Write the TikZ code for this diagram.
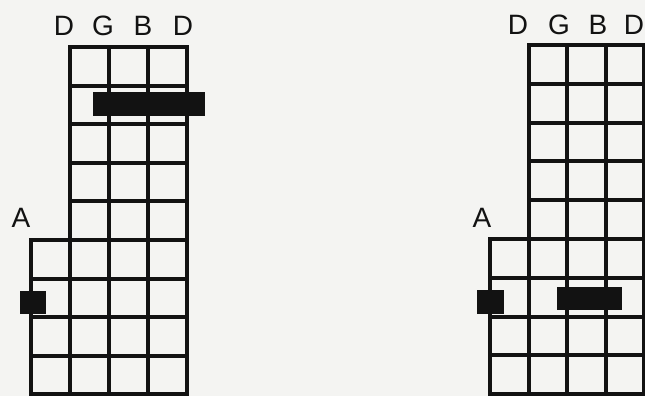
\documentclass[tikz,border=0pt]{standalone}
\usepackage{fontspec}
\setmainfont{Liberation Sans}
\definecolor{paper}{RGB}{244,244,242}
\definecolor{ink}{RGB}{18,18,18}
\begin{document}
\begin{tikzpicture}[x=1pt,y=-1pt,
  gridline/.style={draw=ink, line width=4pt, line cap=rect},
  lbl/.style={inner sep=0pt, font=\fontsize{28}{28}\selectfont, text=ink},
  fing/.style={fill=ink, draw=none, inner sep=0pt, rectangle}]
\fill[paper] (0,0) rectangle (645,396);
\useasboundingbox (0,0) rectangle (645,396);
% ---- left diagram ----
\foreach \k in {0,...,4} \draw[gridline] (69.5,{47+\k*38.6}) -- (186.5,{47+\k*38.6});
\foreach \k in {5,...,9} \draw[gridline] (30.5,{47+\k*38.6}) -- (186.5,{47+\k*38.6});
\foreach \s in {0,...,3} \draw[gridline] ({69.5+\s*39},47) -- ({69.5+\s*39},394.4);
\draw[gridline] (30.5,240) -- (30.5,394.4);
\node[lbl] (l1) at (64,26) {D};
\node[lbl] (l2) at (103,26) {G};
\node[lbl] (l3) at (143,26) {B};
\node[lbl] (l4) at (183,26) {D};
\node[lbl] (lA) at (21,218) {A};
\node[fing, minimum width=112pt, minimum height=24pt] (lbar) at (149,104) {};
\node[fing, minimum width=26pt, minimum height=23pt] (lsq) at (33,302.5) {};
% ---- right diagram ----
\foreach \k in {0,...,4} \draw[gridline] (528.5,{45+\k*38.8}) -- (644,{45+\k*38.8});
\foreach \k in {5,...,9} \draw[gridline] (490,{45+\k*38.8}) -- (644,{45+\k*38.8});
\foreach \s in {0,...,3} \draw[gridline] ({528.5+\s*38.5},45) -- ({528.5+\s*38.5},394.2);
\draw[gridline] (490,239) -- (490,394.2);
\node[lbl] (r1) at (518,25) {D};
\node[lbl] (r2) at (559,25) {G};
\node[lbl] (r3) at (598,25) {B};
\node[lbl] (r4) at (634,25) {D};
\node[lbl] (rA) at (482,218) {A};
\node[fing, minimum width=65pt, minimum height=23pt] (rbar) at (589.5,298.5) {};
\node[fing, minimum width=27pt, minimum height=24pt] (rsq) at (490.5,302) {};
\end{tikzpicture}
\end{document}
